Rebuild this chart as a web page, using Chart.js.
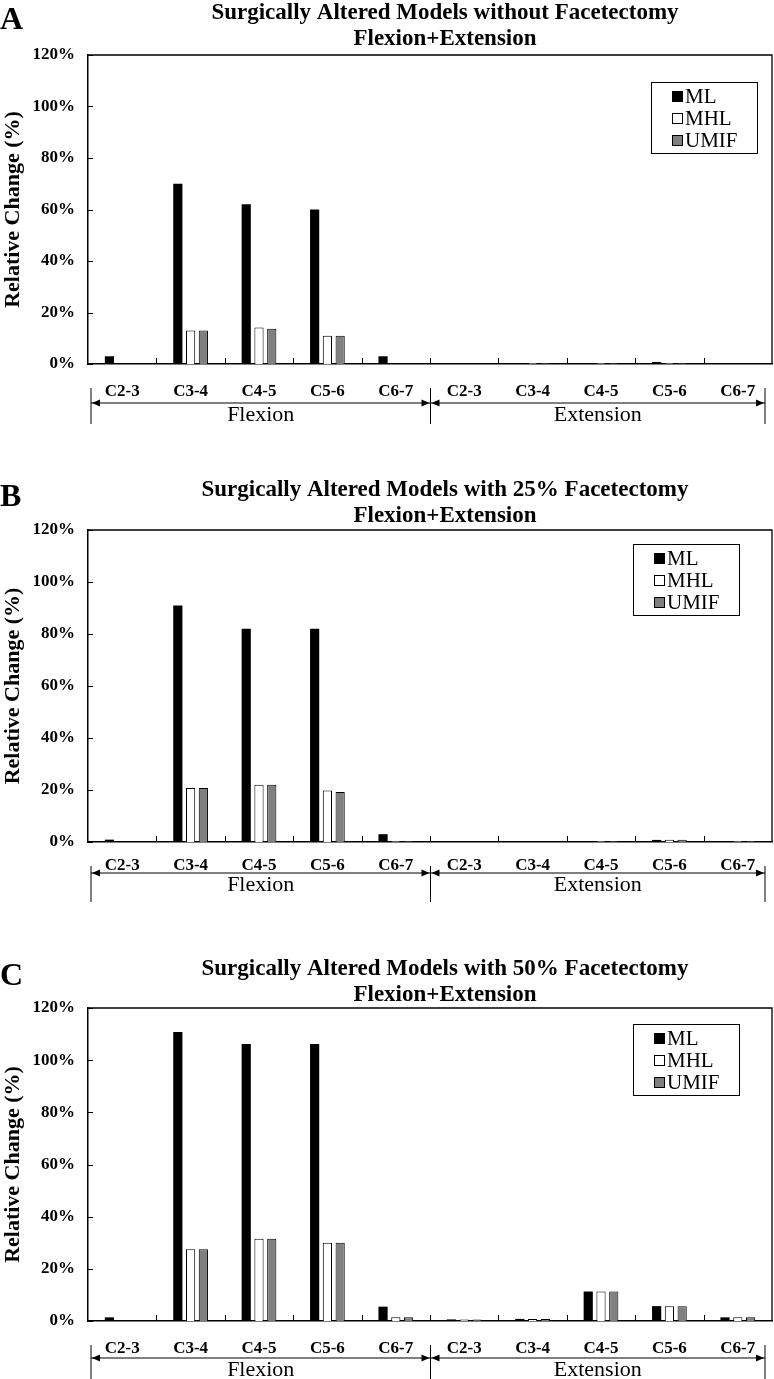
<!DOCTYPE html>
<html>
<head>
<meta charset="utf-8">
<script src="https://cdn.jsdelivr.net/npm/chart.js@4"></script>
<style>
  body { margin:0; background:#fff; }
  .panel { position:absolute; left:0; width:774px; }
</style>
</head>
<body>
<div class="panel" style="top:0px"><canvas id="chartA" width="774" height="440"></canvas></div>
<div class="panel" style="top:477px"><canvas id="chartB" width="774" height="440"></canvas></div>
<div class="panel" style="top:956px"><canvas id="chartC" width="774" height="423"></canvas></div>
<script>
// spinal levels, flexion first then extension
const levels = ['C2-3','C3-4','C4-5','C5-6','C6-7','C2-3','C3-4','C4-5','C5-6','C6-7'];
const motions = ['Flexion','Extension'];
const seriesNames = ['ML','MHL','UMIF'];
const yTickValues = [0,20,40,60,80,100,120];

// A - without facetectomy
const mlA   = [3, 70, 62, 60, 3,   0, 0.3, 0.3, 0.8, 0];
const mhlA  = [0, 13, 14.2, 11, 0, 0, 0.3, 0.3, 0.3, 0];
const umifA = [0, 13, 13.7, 11, 0, 0, 0.3, 0.3, 0.3, 0];
// B - 25% facetectomy
const mlB   = [0.9, 91, 82, 82, 3,     0, 0.2, 0.3, 0.8, 0.3];
const mhlB  = [0, 20.8, 22, 19.8, 0.3, 0, 0, 0.3, 0.9, 0.3];
const umifB = [0, 20.8, 22, 19.2, 0.3, 0, 0, 0.3, 0.9, 0.3];
// C - 50% facetectomy
const mlC   = [1.4, 110.8, 106.2, 106.2, 5.5, 0.6, 0.8, 11.3, 5.7, 1.4];
const mhlC  = [0, 27.5, 31.5, 30, 1.4,       0.6, 0.8, 11.3, 5.7, 1.4];
const umifC = [0, 27.5, 31.5, 30, 1.4,       0.6, 0.8, 11.3, 5.7, 1.4];

const FONT = '"Liberation Serif", "Times New Roman", serif';
const fills = ['#000000','#ffffff','#808080'];

// frame, tick marks, titles, legend and the flexion/extension bracket
const decor = {
  id:'decor',
  afterDraw(chart, args, o){
    const ctx = chart.ctx, a = chart.chartArea;
    const xs = chart.scales.x, ys = chart.scales.y;
    ctx.save();
    ctx.strokeStyle = '#000';
    ctx.lineWidth = 1.3;
    ctx.beginPath();
    ctx.moveTo(a.left, a.top); ctx.lineTo(a.right, a.top); ctx.lineTo(a.right, a.bottom);
    ctx.stroke();
    // inward ticks
    ctx.lineWidth = 1;
    ctx.beginPath();
    yTickValues.forEach(v => {
      const y = Math.round(ys.getPixelForValue(v)) + 0.5;
      ctx.moveTo(a.left, y); ctx.lineTo(a.left + 5, y);
    });
    for (let i = 1; i < levels.length; i++) {
      const x = Math.round((xs.getPixelForValue(i - 1) + xs.getPixelForValue(i)) / 2) + 0.5;
      ctx.moveTo(x, a.bottom); ctx.lineTo(x, a.bottom - 6);
    }
    ctx.stroke();

    // letter + title
    ctx.fillStyle = '#000';
    ctx.font = 'bold 32px ' + FONT;
    ctx.textAlign = 'left'; ctx.textBaseline = 'middle';
    ctx.fillText(o.letter, 0, 21);
    ctx.font = 'bold 23px ' + FONT;
    ctx.textAlign = 'center';
    ctx.fillText(o.title[0], 445, 13);
    ctx.fillText(o.title[1], 445, 39);

    // legend
    const lx = o.legendX, ly = o.legendY;
    ctx.lineWidth = 1;
    ctx.strokeRect(lx + 0.5, ly + 0.5, 106, 71);
    ctx.font = '21px ' + FONT;
    ctx.textAlign = 'left';
    chart.data.datasets.forEach((d, i) => {
      const cy = ly + 14 + i * 22;
      ctx.fillStyle = d.backgroundColor;
      ctx.fillRect(lx + 21, cy - 5, 11, 11);
      ctx.strokeStyle = '#000';
      ctx.strokeRect(lx + 21.5, cy - 4.5, 10, 10);
      ctx.fillStyle = '#000';
      ctx.fillText(d.label, lx + 34, cy + 1);
    });

    // bracket under the categories
    const left = xs.left + 3;
    const mid = Math.round((xs.getPixelForValue(4) + xs.getPixelForValue(5)) / 2) + 0.5;
    const right = xs.right - 7;
    const by = a.bottom + o.bracket;
    ctx.strokeStyle = '#000';
    ctx.beginPath();
    [left, mid, right].forEach(x => { ctx.moveTo(x, a.bottom + 24); ctx.lineTo(x, a.bottom + 60); });
    ctx.moveTo(left, by); ctx.lineTo(right, by);
    ctx.stroke();
    const arrow = (x, dir) => {
      ctx.beginPath();
      ctx.moveTo(x, by); ctx.lineTo(x - dir * 8, by - 3.5); ctx.lineTo(x - dir * 8, by + 3.5);
      ctx.closePath(); ctx.fill();
    };
    arrow(left + 1, -1); arrow(mid - 1, 1); arrow(mid + 1, -1); arrow(right - 1, 1);
    ctx.font = '22px ' + FONT;
    ctx.textAlign = 'center';
    ctx.fillText(motions[0], (left + mid) / 2, by + 12);
    ctx.fillText(motions[1], (mid + right) / 2, by + 12);
    ctx.restore();
  }
};

function makePanel(id, letter, title, ml, mhl, umif, p) {
  const series = [ml, mhl, umif];
  new Chart(document.getElementById(id), {
    type:'bar',
    data:{
      labels: levels,
      datasets: series.map((s, i) => ({
        label: seriesNames[i],
        data: s,
        backgroundColor: fills[i],
        borderColor: '#000',
        borderWidth: i === 0 ? 0 : 1,
        categoryPercentage: 0.56,
        barPercentage: 0.72
      }))
    },
    options:{
      responsive:false,
      animation:false,
      layout:{ padding:{ top:p.top, right:2, left:0, bottom:0 } },
      plugins:{
        legend:{ display:false },
        tooltip:{ enabled:false },
        decor:{ letter, title, legendX:p.legendX, legendY:p.legendY, bracket:p.bracket }
      },
      scales:{
        x:{
          grid:{ display:false, drawTicks:false },
          border:{ display:true, color:'#000', width:1.5 },
          ticks:{ color:'#000', font:{ family:FONT, size:17, weight:'bold' }, padding:p.labelPad, autoSkip:false, maxRotation:0 },
          afterFit(s){ s.height = p.xh; }
        },
        y:{
          min:0, max:120,
          grid:{ display:false, drawTicks:false },
          border:{ display:true, color:'#000', width:1.5 },
          ticks:{ stepSize:20, color:'#000', padding:13, font:{ family:FONT, size:17, weight:'bold' },
                  callback: v => v + '%' },
          title:{ display:true, text:'Relative Change (%)', color:'#000', padding:0,
                  font:{ family:FONT, size:22, weight:'bold' } },
          afterFit(s){ s.width = 88; }
        }
      }
    },
    plugins:[decor]
  });
}

makePanel('chartA', 'A', ['Surgically Altered Models without Facetectomy','Flexion+Extension'], mlA, mhlA, umifA,
  { top:55, xh:76, labelPad:17, bracket:39, legendX:651, legendY:82 });
makePanel('chartB', 'B', ['Surgically Altered Models with 25% Facetectomy','Flexion+Extension'], mlB, mhlB, umifB,
  { top:53, xh:75, labelPad:13, bracket:31, legendX:633, legendY:67 });
makePanel('chartC', 'C', ['Surgically Altered Models with 50% Facetectomy','Flexion+Extension'], mlC, mhlC, umifC,
  { top:52, xh:58, labelPad:17, bracket:37, legendX:633, legendY:68 });
</script>
</body>
</html>
